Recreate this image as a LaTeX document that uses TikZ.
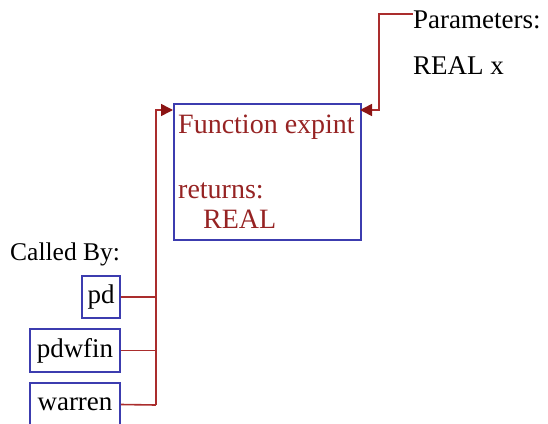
\documentclass[tikz,border=0pt]{standalone}
\usepackage{fontspec}
\setmainfont{Liberation Serif}
\usetikzlibrary{arrows.meta}
\definecolor{boxblue}{RGB}{60,60,175}
\definecolor{connred}{RGB}{170,45,45}
\definecolor{textred}{RGB}{150,35,35}
\definecolor{tipred}{RGB}{140,20,20}
\tikzset{
  every node/.style={font=\fontsize{27}{31}\selectfont, inner sep=0pt},
  callbox/.style={draw=boxblue, line width=1.6pt, minimum height=42pt, inner sep=0pt},
  mainbox/.style={draw=boxblue, line width=1.6pt, minimum width=187pt, minimum height=136pt, anchor=north west},
  redtxt/.style={text=textred, anchor=base west, font=\fontsize{28}{31}\selectfont},
  blacktxt/.style={text=black, anchor=base west},
  conn/.style={draw=connred, line width=1.6pt},
  arr/.style={conn, -{Triangle[length=12pt,width=12pt,fill=tipred,color=tipred]}}
}
\begin{document}
\begin{tikzpicture}[x=1pt,y=-1pt]
\useasboundingbox (0,0) rectangle (548,423);
% main function box
\node[mainbox] (main) at (173,103) {};
\node[redtxt] (fn) at (178,133) {Function expint};
\node[redtxt] (ret) at (178,198) {returns:};
\node[redtxt] (retval) at (203,228) {REAL};
% parameters
\node[blacktxt] (params) at (413,28) {Parameters:};
\node[blacktxt] (px) at (413,74) {REAL x};
\coordinate (pin) at (413,14);
\coordinate (pbend) at (379,14);
\coordinate (pend) at (360,110);
\draw[arr] (pin) -- (pbend) |- (pend);
% callers
\node[blacktxt, font=\fontsize{25.5}{30}\selectfont] (calledby) at (10,260) {Called By:};
\node[callbox, minimum width=38pt] (pd) at (101,297) {pd};
\node[callbox, minimum width=90pt, minimum height=43pt] (pdwfin) at (75,350.5) {pdwfin};
\node[callbox, minimum width=90pt, minimum height=43pt] (warren) at (75,404.5) {warren};
\coordinate (trunktop) at (156,110);
\coordinate (maintip) at (173,110);
\coordinate (trunkbot) at (156,405);
\draw[conn] (pd.east) -- (pd.east -| trunktop);
\draw[conn] (pdwfin.east) -- (pdwfin.east -| trunktop);
\draw[conn] (warren.east) -- (trunkbot);
\draw[arr] (trunkbot) -- (trunktop) -- (maintip);
\end{tikzpicture}
\end{document}
